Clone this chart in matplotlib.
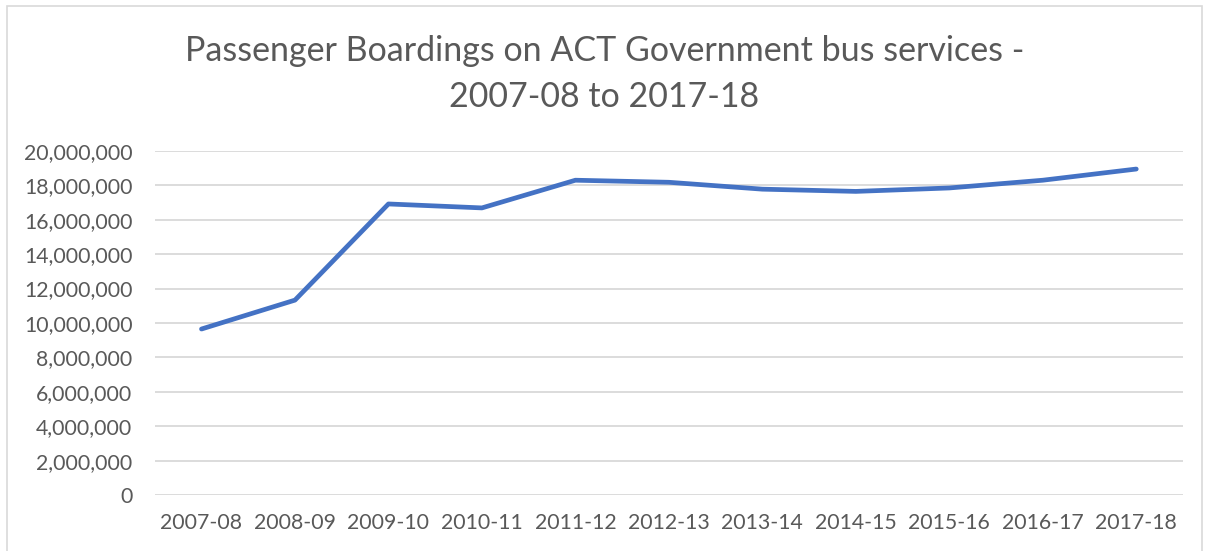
import matplotlib.pyplot as plt
from matplotlib.patches import Rectangle
from matplotlib.ticker import FuncFormatter

years = ['2007-08', '2008-09', '2009-10', '2010-11', '2011-12', '2012-13',
         '2013-14', '2014-15', '2015-16', '2016-17', '2017-18']
boardings = [9650000, 11330000, 16920000, 16690000, 18300000, 18180000,
             17780000, 17650000, 17850000, 18300000, 18950000]

plt.rcParams['font.family'] = ['Lato', 'DejaVu Sans']

fig = plt.figure(figsize=(12.09, 5.51), dpi=100)
ax = fig.add_axes([0.128, 0.1016, 0.8505, 0.6244])

# chart border
fig.patches.append(Rectangle((0.006, -0.01), 0.988, 1.0, transform=fig.transFigure,
                             fill=False, edgecolor='#D9D9D9', linewidth=1.2))

ax.plot(range(len(years)), boardings, color='#4472C4', linewidth=3.4,
        solid_joinstyle='round', solid_capstyle='round', zorder=3)

ax.set_xlim(-0.5, len(years) - 0.5)
ax.set_ylim(0, 20000000)
ax.set_yticks(range(0, 20000001, 2000000))
ax.yaxis.set_major_formatter(FuncFormatter(lambda v, p: f'{int(v):,}'))
ax.set_xticks(range(len(years)))
ax.set_xticklabels(years)
ax.grid(axis='y', color='#D9D9D9', linewidth=1.3)
ax.set_axisbelow(True)
for s in ax.spines.values():
    s.set_visible(False)
ax.tick_params(length=0, colors='#595959', labelsize=15.3)
ax.tick_params(axis='y', pad=16)
ax.tick_params(axis='x', pad=13)

fig.text(0.5, 0.866, 'Passenger Boardings on ACT Government bus services -\n2007-08 to 2017-18',
         ha='center', va='center', fontsize=24.5, color='#595959', linespacing=1.55)

fig.savefig('out.png', dpi=100)
